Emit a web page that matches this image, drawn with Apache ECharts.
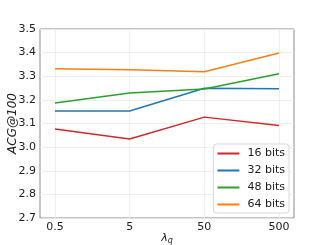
<!DOCTYPE html>
<html><head><meta charset="utf-8">
<script src="https://cdn.jsdelivr.net/npm/echarts@6/dist/echarts.min.js"></script>
<style>html,body{margin:0;padding:0;background:#fff}#c{width:327px;height:245px}</style>
</head><body><div id="c"></div>
<script>
var categories = ['0.5', '5', '50', '500'];
var seriesNames = ['16 bits', '32 bits', '48 bits', '64 bits'];
var bits16 = [3.077, 3.034, 3.127, 3.092];
var bits32 = [3.153, 3.153, 3.249, 3.247];
var bits48 = [3.187, 3.229, 3.246, 3.311];
var bits64 = [3.332, 3.328, 3.319, 3.398];
var colors = ['#d62728', '#1f77b4', '#2ca02c', '#ff7f0e'];
var allValues = [bits16, bits32, bits48, bits64];

var chart = echarts.init(document.getElementById('c'), null, {renderer: 'canvas'});
var fontFam = 'DejaVu Sans';
var series = allValues.map(function (vals, i) {
  return {
    name: seriesNames[i], type: 'line', symbol: 'none', color: colors[i],
    lineStyle: {width: 1.5, color: colors[i]},
    data: vals.map(function (v, j) { return [j, v]; })
  };
});
chart.setOption({
  animation: false,
  backgroundColor: '#fff',
  grid: {left: 40, right: 33, top: 29, bottom: 27, show: true, borderColor: '#8c8c8c', borderWidth: 1,
    containLabel: false, outerBoundsMode: 'none'},
  xAxis: {
    type: 'value', min: -0.2, max: 3.2,
    name: '{i|λ}{s|q}', nameLocation: 'middle', nameGap: 13, nameMoveOverlap: false,
    nameTextStyle: {verticalAlign: 'top', rich: {i: {fontFamily: fontFam, fontStyle: 'italic', fontSize: 11, color: '#222'},
      s: {fontFamily: fontFam, fontStyle: 'italic', fontSize: 8, color: '#222', verticalAlign: 'bottom', padding: [6, 0, 0, 0]}}},
    axisLine: {show: false},
    axisTick: {show: false, customValues: [0, 1, 2, 3]},
    axisLabel: {customValues: [0, 1, 2, 3], margin: 4, fontFamily: fontFam, fontSize: 11, color: '#222',
      formatter: function (v) { return categories[Math.round(v)]; }},
    splitLine: {show: true, lineStyle: {color: '#ebebeb', width: 0.8}}
  },
  yAxis: {
    type: 'value', min: 2.7, max: 3.5, interval: 0.1,
    name: 'ACG@100', nameLocation: 'middle', nameGap: 21, nameRotate: 90, nameMoveOverlap: false,
    nameTextStyle: {fontFamily: fontFam, fontStyle: 'italic', fontSize: 12, color: '#222'},
    axisLine: {show: false}, axisTick: {show: false},
    axisLabel: {margin: 4, fontFamily: fontFam, fontSize: 11, color: '#222',
      formatter: function (v) { return v.toFixed(1); }},
    splitLine: {show: true, lineStyle: {color: '#ebebeb', width: 0.8}}
  },
  legend: {
    data: seriesNames, orient: 'vertical', right: 38, bottom: 32,
    icon: 'rect', itemWidth: 22, itemHeight: 2, itemGap: 6,
    backgroundColor: '#fff', borderColor: '#d9d9d9', borderWidth: 1, borderRadius: 3,
    padding: [4, 4, 3, 4],
    textStyle: {fontFamily: fontFam, fontSize: 11, color: '#222', padding: [0, 0, 0, 3]}
  },
  series: series
});
</script></body></html>
